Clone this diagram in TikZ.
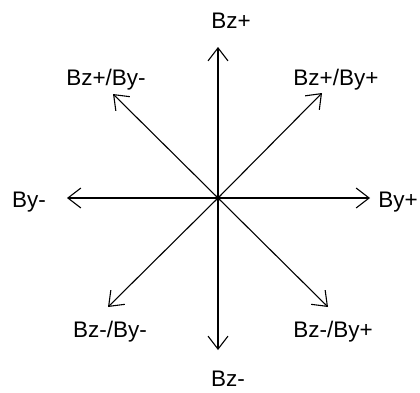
\documentclass[tikz,border=0pt]{standalone}
\usepackage{fontspec}
\setmainfont{Liberation Sans}
\usepackage{tikz}
\usetikzlibrary{arrows.meta}
\tikzset{
  axis/.style={-{Straight Barb[length=13pt,width=20pt,line width=1.1pt]}, line width=1.1pt, draw=black},
  dirlabel/.style={anchor=base, inner sep=0pt, font=\fontsize{22.5}{25}\selectfont}
}
\begin{document}
\begin{tikzpicture}[x=1pt,y=1pt]
  \useasboundingbox (0,0) rectangle (420,392);
  \coordinate (o) at (218,194);
  % arrow tips
  \foreach \name/\px/\py in {up/218/345,down/218/42,left/67/194,right/370/194,
                             upleft/113/298,upright/322/299,downleft/108/85,downright/328/85} {
    \coordinate (\name) at (\px,\py);
    \draw[axis] (o) -- (\name);
  }
  % labels
  \node[dirlabel] (bzp) at (231,363) {Bz+};
  \node[dirlabel] (bzm) at (228,6) {Bz-};
  \node[dirlabel] (bym) at (29,185) {By-};
  \node[dirlabel] (byp) at (398,185) {By+};
  \node[dirlabel] (bzpbym) at (106,307) {Bz+/By-};
  \node[dirlabel] (bzpbyp) at (336,307) {Bz+/By+};
  \node[dirlabel] (bzmbym) at (110,55) {Bz-/By-};
  \node[dirlabel] (bzmbyp) at (333,55) {Bz-/By+};
\end{tikzpicture}
\end{document}
